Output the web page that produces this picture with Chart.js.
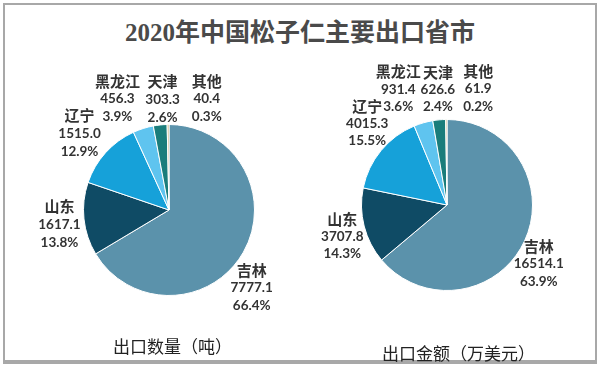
<!DOCTYPE html>
<html>
<head>
<meta charset="utf-8">
<script src="https://cdn.jsdelivr.net/npm/chart.js@4"></script>
<style>
  html, body { margin: 0; padding: 0; background: #fff; }
  #wrap { position: relative; width: 600px; height: 366px; overflow: hidden; }
  #frame { position: absolute; left: 3px; top: 3px; width: 590px; height: 355px;
           border: 2px solid #a8a8a8; border-bottom-width: 4px; }
  #title { position: absolute; left: 0; width: 600px; top: 12px; text-align: center;
           font: bold 25px "Liberation Serif", "Noto Sans CJK SC", serif; color: #4a4a4a; }
  .cap { position: absolute; font: 17px "Noto Sans CJK SC", sans-serif; color: #222; white-space: nowrap; }
  .box { position: absolute; top: 0; width: 300px; height: 366px; }
</style>
</head>
<body>
<div id="wrap">
  <div id="frame"></div>
  <div id="title">2020年中国松子仁主要出口省市</div>
  <div class="box" style="left:0"><canvas id="qtyChart"></canvas></div>
  <div class="box" style="left:300px"><canvas id="valChart"></canvas></div>
  <div class="cap" style="left:113px; top:333px">出口数量（吨）</div>
  <div class="cap" style="left:382px; top:340px">出口金额（万美元）</div>
</div>
<script>
// data
var provinces = ["吉林", "山东", "辽宁", "黑龙江", "天津", "其他"];
var exportQty = [7777.1, 1617.1, 1515.0, 456.3, 303.3, 40.4];        // 吨
var exportValue = [16514.1, 3707.8, 4015.3, 931.4, 626.6, 61.9];     // 万美元

var sliceColors = ["#5b92ab", "#0f4b65", "#16a1d9", "#5fc4ef", "#1a7d7b", "#bfae72"];

// label nudges (px) relative to a point just outside each slice
var qtyNudge = [[-14, 23], [1, 3], [-7, -2], [-18, -5], [5, 0], [39, 0]];
var valNudge = [[-9, 12], [3, 4], [6, -11], [-18, -9], [1, -5], [32, -5]];

const sliceLabels = {
    id: "sliceLabels",
    afterDatasetsDraw(chart, args, opts) {
        const ctx = chart.ctx;
        const ds = chart.data.datasets[0];
        const total = ds.data.reduce((a, b) => a + b, 0);
        const meta = chart.getDatasetMeta(0);
        const gap = opts.lineGap;
        ctx.save();
        ctx.textAlign = "center";
        ctx.textBaseline = "middle";
        ctx.fillStyle = "#333";
        meta.data.forEach((arc, i) => {
            const p = arc.getProps(["x", "y", "startAngle", "endAngle", "outerRadius"], true);
            const mid = (p.startAngle + p.endAngle) / 2;
            const d = p.outerRadius * 1.3;
            const lx = p.x + Math.cos(mid) * d + opts.nudge[i][0];
            const ly = p.y + Math.sin(mid) * d + opts.nudge[i][1];
            const v = ds.data[i];
            ctx.font = "bold 15px 'Noto Sans CJK SC', sans-serif";
            ctx.fillText(chart.data.labels[i], lx, ly - gap);
            ctx.font = "bold 13.5px Lato, sans-serif";
            ctx.fillText(v.toFixed(1), lx, ly);
            ctx.fillText((v / total * 100).toFixed(1) + "%", lx, ly + gap);
        });
        ctx.restore();
    }
};

function makePie(id, values, pad, nudge, lineGap) {
    return new Chart(id, {
        type: "pie",
        data: {
            labels: provinces,
            datasets: [{
                data: values,
                backgroundColor: sliceColors,
                borderColor: "#fff",
                borderWidth: 1
            }]
        },
        options: {
            responsive: true,
            maintainAspectRatio: false,
            animation: false,
            layout: { padding: pad },
            plugins: {
                legend: { display: false },
                tooltip: { enabled: false },
                sliceLabels: { nudge: nudge, lineGap: lineGap }
            }
        },
        plugins: [sliceLabels]
    });
}

makePie("qtyChart", exportQty, { left: 83, right: 45, top: 124, bottom: 70 }, qtyNudge, 18);
makePie("valChart", exportValue, { left: 61, right: 67, top: 119, bottom: 75 }, valNudge, 17.5);
</script>
</body>
</html>
